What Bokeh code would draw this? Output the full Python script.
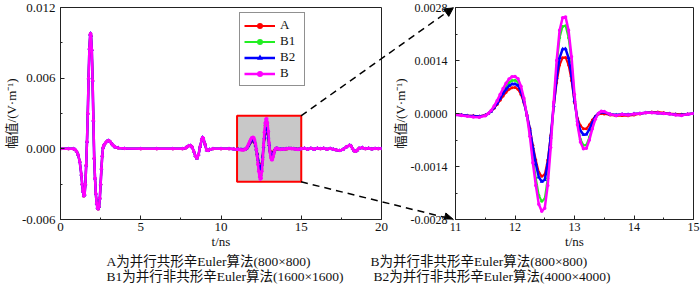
from bokeh.plotting import figure
from bokeh.layouts import row, column
from bokeh.models import FixedTicker, PrintfTickFormatter, Range1d, Arrow, NormalHead
from bokeh.core.properties import value
from bokeh.embed import file_html
from bokeh.resources import INLINE

# ---------------- data ----------------
series_names = ["A", "B1", "B2", "B"]

# shared part of all four traces before the zoom window (t in ns, amplitude in V/m)
t_pre = [0.0, 0.5, 0.8, 0.9, 1.0, 1.1, 1.2, 1.3, 1.35, 1.4, 1.45, 1.5, 1.55, 1.6, 1.65,
         1.7, 1.75, 1.8, 1.85, 1.875, 1.9, 1.95, 2.0, 2.05, 2.1, 2.15, 2.2, 2.25, 2.3,
         2.35, 2.4, 2.45, 2.5, 2.55, 2.6, 2.65, 2.7, 2.8, 2.9, 3.0, 3.1, 3.2, 3.3, 3.4,
         3.6, 4.0, 5.0, 6.0, 7.0, 7.6, 7.8, 7.9, 8.0, 8.1, 8.2, 8.3, 8.4, 8.5, 8.6, 8.7,
         8.8, 8.85, 8.9, 9.0, 9.1, 9.2, 9.3, 9.5, 10.0, 10.5, 10.8]
v_pre = [0.0, 0.0, 0.0, -0.00005, -0.0002, -0.0005, -0.0011, -0.0022, -0.003, -0.0036,
         -0.004, -0.0039, -0.003, -0.0014, 0.0006, 0.003, 0.006, 0.0085, 0.0097, 0.0098,
         0.0096, 0.0084, 0.0058, 0.0024, -0.0008, -0.0025, -0.0038, -0.0046, -0.005,
         -0.0051, -0.0049, -0.0042, -0.003, -0.0017, -0.0006, 0.0001, 0.0003, 0.0005,
         0.00065, 0.0007, 0.0006, 0.00042, 0.00026, 0.00015, 0.00008, 0.00003, 0.0, 0.0,
         0.0, 0.0, 0.00008, 0.00018, 0.00026, 0.00028, 0.00015, -0.0002, -0.0006, -0.0008,
         -0.0005, 0.0002, 0.0008, 0.00097, 0.0009, 0.0004, -0.0001, -0.00015, -0.00005,
         0.0, 0.0, 0.0, -0.00002]

# zoom window 11-15 ns, where the four traces differ
t_zoom = [11.0, 11.1, 11.2, 11.3, 11.4, 11.5, 11.55, 11.6, 11.65, 11.7, 11.75, 11.8, 11.85,
          11.9, 11.95, 12.0, 12.05, 12.1, 12.15, 12.2, 12.25, 12.3, 12.35, 12.4, 12.45,
          12.5, 12.55, 12.6, 12.65, 12.7, 12.75, 12.8, 12.85, 12.9, 12.95, 13.0, 13.05,
          13.1, 13.15, 13.2, 13.25, 13.3, 13.35, 13.4, 13.45, 13.5, 13.6, 13.7, 13.8,
          13.9, 14.0, 14.1, 14.2, 14.3, 14.4, 14.5, 14.6, 14.7, 14.8, 14.9, 15.0]
A_zoom = [-0.00002, -0.00003, -0.00005, -0.00006, -0.00007, -0.00004, 0.0, 0.00006,
          0.00014, 0.00024, 0.00035, 0.00046, 0.00056, 0.00064, 0.00068, 0.00069, 0.00064,
          0.0005, 0.00028, -0.00003, -0.00039, -0.00084, -0.00123, -0.00155, -0.00166,
          -0.00161, -0.00123, -0.00058, 0.00017, 0.00081, 0.00128, 0.00147, 0.00148,
          0.00128, 0.00087, 0.00029, -0.00013, -0.00032, -0.0004, -0.0004, -0.0003,
          -0.00017, -0.00007, -0.00002, 0.0, -0.00001, -0.00004, -0.00006, -0.00005,
          -0.00006, -0.00004, -0.00001, 0.00002, 0.00004, 0.00004, 0.00002, 0.0,
          -0.00001, -0.00002, -0.00001, 0.0]
B1_zoom = [-0.00003, -0.00005, -0.00006, -0.00008, -0.00009, -0.00005, 0.0, 0.00007,
           0.00018, 0.00031, 0.00045, 0.00059, 0.00072, 0.00082, 0.00087, 0.00088, 0.00083,
           0.00065, 0.00036, -0.00005, -0.00054, -0.00117, -0.00171, -0.00216, -0.00232,
           -0.00225, -0.00171, -0.00081, 0.00027, 0.00127, 0.002, 0.0023, 0.00232, 0.002,
           0.00137, 0.00046, -0.00027, -0.00068, -0.00084, -0.00083, -0.00063, -0.00036,
           -0.00014, 0.0, 0.00005, 0.00004, -0.00002, -0.00004, -0.00002, -0.00003,
           -0.00001, 0.0, 0.00002, 0.00002, 0.00001, 0.0, -0.00001, -0.00003, -0.00004,
           -0.00002, 0.0]
B2_zoom = [-0.00003, -0.00004, -0.00006, -0.00007, -0.00008, -0.00005, 0.0, 0.00006,
           0.00016, 0.00027, 0.0004, 0.00053, 0.00064, 0.00073, 0.00078, 0.00078, 0.00074,
           0.00058, 0.00032, -0.00004, -0.00042, -0.00091, -0.00133, -0.00168, -0.0018,
           -0.00175, -0.00133, -0.00063, 0.0002, 0.00094, 0.00147, 0.0017, 0.00171,
           0.00147, 0.001, 0.00034, -0.00018, -0.00045, -0.00056, -0.00055, -0.00042,
           -0.00024, -0.00009, 0.0, 0.00004, 0.00003, -0.00002, -0.00004, -0.00002,
           -0.00003, -0.00001, 0.0, 0.00002, 0.00002, 0.00001, 0.0, -0.00001, -0.00003,
           -0.00004, -0.00002, 0.0]
B_zoom = [-0.00003, -0.00005, -0.00007, -0.00009, -0.0001, -0.00006, 0.0, 0.00008,
          0.0002, 0.00034, 0.0005, 0.00066, 0.0008, 0.00091, 0.00097, 0.00098, 0.00092,
          0.00072, 0.0004, -0.00005, -0.0006, -0.0013, -0.0019, -0.0024, -0.00258,
          -0.0025, -0.0019, -0.0009, 0.0003, 0.0014, 0.0022, 0.00253, 0.00255, 0.0022,
          0.0015, 0.0005, -0.0003, -0.00075, -0.00093, -0.00092, -0.0007, -0.0004,
          -0.00015, 0.0, 0.00006, 0.00005, -0.00002, -0.00005, -0.00002, -0.00004,
          -0.00001, 0.0, 0.00002, 0.00002, 0.00001, 0.0, -0.00001, -0.00004, -0.00005,
          -0.00002, 0.0]

# shared tail after the zoom window
t_post = [15.2, 15.4, 15.6, 15.8, 16.0, 16.2, 16.4, 16.6, 16.8, 17.0, 17.2, 17.4, 17.6,
          17.8, 18.0, 18.1, 18.2, 18.3, 18.4, 18.5, 18.6, 18.8, 19.0, 19.2, 19.4, 19.6,
          19.8, 20.0]
v_post = [0.00004, -0.00003, 0.00005, -0.00004, 0.00005, 0.0, 0.00004, -0.00003, 0.00003,
          -0.00004, -0.0001, -0.00015, -0.00005, 0.00015, 0.0003, 0.00025, 0.0, -0.00018,
          -0.0002, -0.0001, 0.00005, 0.0001, 0.0, 0.00004, -0.00002, 0.00003, 0.0, 0.00002]

x_ticks_main = [0, 5, 10, 15, 20]
y_ticks_main = [-0.006, 0.0, 0.006, 0.012]
x_ticks_zoom = [11, 12, 13, 14, 15]
y_ticks_zoom = [-0.0028, -0.0014, 0.0, 0.0014, 0.0028]
zoom_x = (11, 15)
zoom_y = (-0.0028, 0.0028)

y_label = "幅值/(V·m⁻¹)"
x_label = "t/ns"
captions = [
    ["A为并行共形辛Euler算法(800×800)", "B为并行非共形辛Euler算法(800×800)"],
    ["B1为并行非共形辛Euler算法(1600×1600)", "B2为并行非共形辛Euler算法(4000×4000)"],
]

t_all = t_pre + t_zoom + t_post
series_values = {
    "A": v_pre + A_zoom + v_post,
    "B1": v_pre + B1_zoom + v_post,
    "B2": v_pre + B2_zoom + v_post,
    "B": v_pre + B_zoom + v_post,
}

# ---------------- styles / layout ----------------
FONT = "'Liberation Serif', 'Noto Sans CJK SC'"
LATIN = "'Liberation Serif'"
colors = {"A": "#FF0000", "B1": "#22EE22", "B2": "#0000FF", "B": "#FF00FF"}
lwidth = {"A": 2, "B1": 2, "B2": 2.5, "B": 2.5}
markers = {"A": "circle", "B1": "circle", "B2": "triangle", "B": "circle"}
msize = {"A": 3, "B1": 3, "B2": 4, "B": 3.5}

TOP, BOT = 7, 33
LW, LH = 389, 252
L_ML, L_MR = 59, 8
RW, RH = 311, 252
R_ML, R_MR = 64, 7
CAP_H = 34
C_X0, C_X1 = 295, 459          # page span of the transparent connector layer

L_FRAME = (L_ML, LW - L_MR, TOP, LH - BOT)
R_FRAME = (LW + R_ML, LW + RW - R_MR, TOP, RH - BOT)
L_RANGE = ((0, 20), (-0.006, 0.012))
R_RANGE = (zoom_x, zoom_y)


def to_page(frame, rng, x, y):
    px0, px1, py0, py1 = frame
    (x0, x1), (y0, y1) = rng
    return (px0 + (x - x0) / (x1 - x0) * (px1 - px0),
            py1 - (y - y0) / (y1 - y0) * (py1 - py0))


def page_to_left_y(py):
    px0, px1, py0, py1 = L_FRAME
    (y0, y1) = L_RANGE[1]
    return y0 + (py1 - py) / (py1 - py0) * (y1 - y0)


def style(p, xt, xminor, yt, yminor, yfmt, tick_size, y_standoff):
    p.xaxis.ticker = FixedTicker(ticks=xt, minor_ticks=xminor)
    p.yaxis.ticker = FixedTicker(ticks=yt, minor_ticks=yminor)
    p.yaxis.formatter = PrintfTickFormatter(format=yfmt)
    p.xgrid.visible = False
    p.ygrid.visible = False
    p.outline_line_color = "#222222"
    p.outline_line_width = 1
    for ax in (p.xaxis[0], p.yaxis[0]):
        ax.axis_line_color = "#222222"
        ax.major_tick_in = 4
        ax.major_tick_out = 0
        ax.minor_tick_in = 2
        ax.minor_tick_out = 0
        ax.major_tick_line_color = "#222222"
        ax.minor_tick_line_color = "#222222"
        ax.major_label_text_font = FONT
        ax.major_label_text_font_size = tick_size
        ax.major_label_text_color = "#111111"
        ax.axis_label_text_font = FONT
        ax.axis_label_text_font_size = "13px"
        ax.axis_label_text_font_style = "normal"
        ax.axis_label_text_color = "#111111"
        ax.axis_label_standoff = 0
    p.xaxis.major_label_standoff = 3
    p.yaxis.major_label_standoff = y_standoff
    p.xaxis.axis_label = x_label
    p.yaxis.axis_label = y_label


def draw_series(p, with_legend):
    for name in series_names:
        kw = {"legend_label": name} if with_legend else {}
        p.line(t_all, series_values[name], line_color=colors[name], line_width=lwidth[name], **kw)
        p.scatter(t_all, series_values[name], marker=markers[name], size=msize[name],
                  line_color=None, fill_color=colors[name], **kw)


# ---- left (full) plot
left = figure(width=LW, height=LH, x_range=Range1d(*L_RANGE[0]), y_range=Range1d(*L_RANGE[1]),
              output_backend="svg", toolbar_location=None,
              min_border_left=L_ML, min_border_right=L_MR, min_border_top=TOP, min_border_bottom=BOT)
style(left, x_ticks_main, [2.5, 7.5, 12.5, 17.5], y_ticks_main, [-0.003, 0.003, 0.009],
      "%.3f", "13px", 5)
left.quad(left=[zoom_x[0]], right=[zoom_x[1]], bottom=[zoom_y[0]], top=[zoom_y[1]],
          fill_color="#C8C8C8", line_color="#FF0000", line_width=2)
draw_series(left, True)

lg = left.legend[0]
lg.location = (179, 133)
lg.border_line_color = "#222222"
lg.border_line_width = 1
lg.background_fill_alpha = 1
lg.label_text_font = LATIN
lg.label_text_font_size = "13px"
lg.label_text_color = "#111111"
lg.glyph_width = 31
lg.glyph_height = 15
lg.label_height = 15
lg.label_standoff = 5
lg.spacing = 0
lg.padding = 4
lg.margin = 0

# ---- right (zoomed) plot; transparent border so the connectors show through
right = figure(width=RW, height=RH, x_range=Range1d(*R_RANGE[0]), y_range=Range1d(*R_RANGE[1]),
               output_backend="svg", toolbar_location=None,
               min_border_left=R_ML, min_border_right=R_MR, min_border_top=TOP, min_border_bottom=BOT)
style(right, x_ticks_zoom, [11.5, 12.5, 13.5, 14.5], y_ticks_zoom,
      [-0.0021, -0.0007, 0.0007, 0.0021], "%.4f", "12px", 8)
right.border_fill_alpha = 0
draw_series(right, False)

# ---- transparent layer for the dashed connectors (overlaps both plots);
# x in page pixels, y in the amplitude units of the left plot (same vertical frame)
conn_w = C_X1 - C_X0
conn = figure(width=conn_w, height=LH, x_range=Range1d(C_X0, C_X1),
              y_range=Range1d(*L_RANGE[1]), title=None,
              output_backend="svg", toolbar_location=None, x_axis_location=None,
              y_axis_location=None, min_border_left=0, min_border_right=0,
              min_border_top=TOP, min_border_bottom=BOT,
              margin=(0, -(C_X1 - LW), 0, -(LW - C_X0)))
conn.outline_line_color = None
conn.background_fill_alpha = 0
conn.border_fill_alpha = 0
conn.xgrid.visible = False
conn.ygrid.visible = False
for zy in (zoom_y[1], zoom_y[0]):
    sx, _ = to_page(L_FRAME, L_RANGE, zoom_x[1], zy)
    ex, ey_page = to_page(R_FRAME, R_RANGE, zoom_x[0], zy)
    conn.add_layout(Arrow(end=NormalHead(size=9, fill_color="black", line_color="black"),
                          x_start=sx, y_start=zy, x_end=ex, y_end=page_to_left_y(ey_page),
                          line_color="black", line_width=1.5, line_dash="7 5"))

# ---- captions
cap = figure(width=LW + RW, height=CAP_H, x_range=Range1d(0, LW + RW), y_range=Range1d(CAP_H, 0),
             output_backend="svg", toolbar_location=None, x_axis_location=None,
             y_axis_location=None, min_border=0)
cap.outline_line_color = None
cap.xgrid.visible = False
cap.ygrid.visible = False
cap_x = [[106, 370], [106, 373]]
cap_y = [9, 23.5]
for i, line in enumerate(captions):
    cap.text(x=cap_x[i], y=[cap_y[i]] * 2, text=line, text_font=value(FONT),
             text_font_size="13.5px", text_baseline="middle", text_align="left",
             text_color="#111111")

layout = column(row(left, conn, right), cap)
open("out.html", "w").write(file_html(layout, INLINE))
